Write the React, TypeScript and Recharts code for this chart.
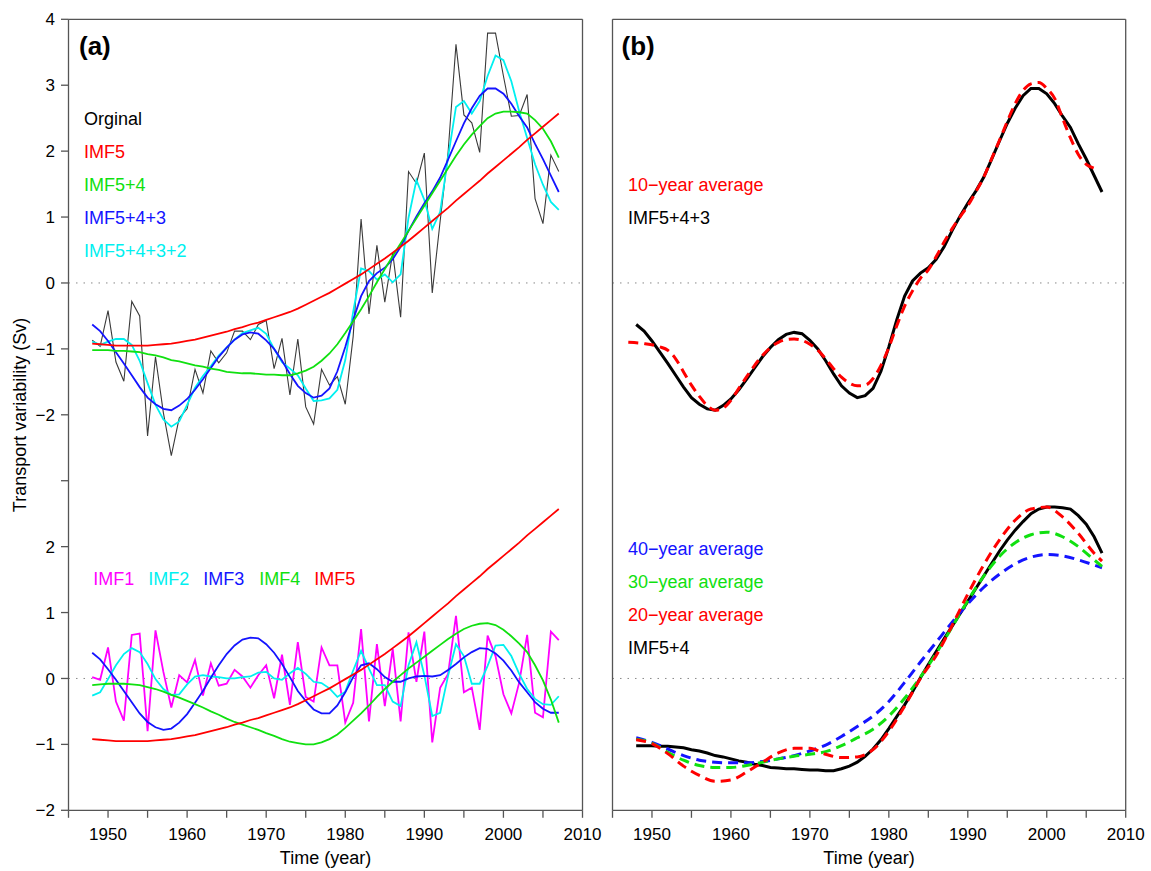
import React from "react";
import { LineChart, Line, XAxis, YAxis, ReferenceLine } from "recharts";

// annual series, 1948-2007
const years = Array.from({ length: 60 }, (_, i) => 1948 + i);

const imf1 = [
  0.02, -0.02, 0.47, -0.35, -0.64, 0.66, 0.68, -0.8, 0.73, 0.1,
  -0.44, 0.05, -0.06, 0.28, -0.26, 0.23, -0.11, -0.08, 0.13, 0.03,
  -0.14, 0.05, 0.2, -0.3, 0.36, -0.4, 0.55, -0.28, -0.35, 0.47,
  0.2, 0.2, -0.67, -0.37, 0.75, -0.65, 0.52, -0.42, 0.45, -0.65,
  0.7, -0.05, 0.71, -0.97, -0.14, 0.07, 0.95, -0.21, -0.14, -0.78,
  0.65, 0.34, -0.24, -0.53, -0.06, 0.66, -0.52, -0.59, 0.71, 0.58,
];
const imf2 = [
  -0.26, -0.21, -0.01, 0.2, 0.37, 0.46, 0.4, 0.22, -0.01, -0.16,
  -0.25, -0.24, -0.09, 0.03, 0.05, 0.03, 0.02, 0.0, 0.0, 0.02,
  0.03, 0.09, 0.1, 0.0, -0.02, 0.08, 0.16, 0.07, -0.05, -0.07,
  -0.15, -0.28, -0.2, 0.12, 0.42, 0.15, -0.1, -0.1, -0.35, -0.42,
  0.2, 0.55, 0.05, -0.57, -0.52, 0.04, 0.52, 0.34, -0.08, -0.08,
  0.19, 0.5, 0.51, 0.34, 0.07, -0.16, -0.31, -0.39, -0.4, -0.27,
];
const imf3 = [
  0.39, 0.29, 0.14, -0.02, -0.19, -0.36, -0.53, -0.66, -0.74, -0.78,
  -0.76, -0.67, -0.54, -0.37, -0.19, 0.01, 0.2, 0.37, 0.5, 0.59,
  0.62, 0.61, 0.52, 0.39, 0.22, 0.02, -0.19, -0.34, -0.47, -0.53,
  -0.53, -0.41, -0.21, 0.02, 0.2, 0.23, 0.14, 0.02, -0.05, -0.05,
  0.0, 0.03, 0.04, 0.03, 0.05, 0.13, 0.22, 0.32, 0.4, 0.46,
  0.45, 0.38, 0.27, 0.12, -0.06, -0.21, -0.36, -0.46, -0.52, -0.52,
];
const imf4 = [
  -0.1, -0.09, -0.08, -0.08, -0.08, -0.09, -0.1, -0.13, -0.16, -0.2,
  -0.25, -0.29, -0.34, -0.39, -0.44, -0.5, -0.55, -0.61, -0.66, -0.7,
  -0.74, -0.78, -0.83, -0.87, -0.92, -0.96, -0.98, -1.0, -1.0, -0.97,
  -0.92, -0.85, -0.75, -0.64, -0.53, -0.41, -0.28, -0.16, -0.05, 0.05,
  0.15, 0.24, 0.33, 0.42, 0.51, 0.6, 0.68, 0.75, 0.8, 0.83,
  0.84, 0.81, 0.74, 0.64, 0.53, 0.4, 0.2, -0.03, -0.32, -0.67,
];
const imf5 = [
  -0.92, -0.93, -0.94, -0.95, -0.95, -0.95, -0.95, -0.95, -0.94, -0.93,
  -0.92, -0.9, -0.88, -0.86, -0.83, -0.8, -0.77, -0.74, -0.7, -0.67,
  -0.63, -0.6, -0.56, -0.52, -0.48, -0.44, -0.39, -0.33, -0.27, -0.21,
  -0.15, -0.08, -0.01, 0.06, 0.13, 0.21, 0.29, 0.37, 0.46, 0.55,
  0.64, 0.74, 0.84, 0.94, 1.04, 1.14, 1.25, 1.35, 1.45, 1.55,
  1.66, 1.76, 1.86, 1.96, 2.06, 2.17, 2.27, 2.37, 2.47, 2.57,
];

// running averages, panel (b)
const avg10Years = [
  1947, 1949, 1951, 1952, 1953, 1954, 1955, 1956, 1957, 1958, 1959, 1960,
  1961, 1962, 1963, 1964, 1965, 1966, 1967, 1968, 1969, 1970, 1971, 1972,
  1973, 1974, 1975, 1976, 1977, 1978, 1979, 1980, 1981, 1982, 1983, 1984,
  1985, 1986, 1987, 1988, 1989, 1990, 1991, 1992, 1993, 1994, 1995, 1996,
  1997, 1998, 1999, 2000, 2001, 2002, 2003, 2004, 2005, 2006, 2006.5,
];
const avg10 = [
  -0.9, -0.92, -0.97, -1.02, -1.15, -1.35, -1.55, -1.72, -1.86, -1.93, -1.9, -1.78,
  -1.6, -1.42, -1.25, -1.1, -0.98, -0.9, -0.86, -0.85, -0.87, -0.93, -1.02, -1.15,
  -1.3, -1.43, -1.52, -1.56, -1.55, -1.45, -1.25, -0.98, -0.65, -0.35, -0.12, 0.07,
  0.2, 0.4, 0.62, 0.82, 1.0, 1.17, 1.38, 1.6, 1.88, 2.16, 2.45, 2.72,
  2.92, 3.02, 3.04, 2.95, 2.8, 2.5, 2.2, 1.95, 1.8, 1.74, 1.72,
];

const avgYears = [
  1948, 1950, 1952, 1954, 1956, 1958, 1960, 1962, 1964, 1966, 1968, 1970,
  1972, 1974, 1976, 1978, 1980, 1982, 1984, 1986, 1988, 1990, 1992, 1994,
  1996, 1998, 2000, 2002, 2004, 2006, 2007,
];
const avg40 = [
  -0.9, -0.97, -1.07, -1.17, -1.24, -1.27, -1.28, -1.28, -1.26, -1.22, -1.17, -1.1,
  -1.01, -0.88, -0.73, -0.57, -0.35, -0.06, 0.25, 0.55, 0.85, 1.13, 1.38, 1.58,
  1.74, 1.84, 1.88, 1.86, 1.8, 1.72, 1.68,
];
const avg30 = [
  -0.92, -0.98, -1.12, -1.24, -1.32, -1.35, -1.35, -1.32, -1.27, -1.22, -1.18, -1.15,
  -1.11, -1.02, -0.9, -0.77, -0.57, -0.3, 0.02, 0.38, 0.78, 1.18, 1.55, 1.85,
  2.06, 2.18, 2.22, 2.15, 2.0, 1.8, 1.7,
];
const avg20 = [
  -0.93, -0.99, -1.14, -1.33, -1.47, -1.56, -1.54, -1.42, -1.27, -1.13, -1.06, -1.06,
  -1.15, -1.2, -1.19, -1.08, -0.8, -0.42, 0.0, 0.35, 0.8, 1.28, 1.72, 2.1,
  2.4, 2.57, 2.6, 2.45, 2.2, 1.9, 1.78,
];

const xTicks = [1945, 1950, 1955, 1960, 1965, 1970, 1975, 1980, 1985, 1990, 1995, 2000, 2005, 2010];
const yTicks = [4, 3, 2, 1, 0, -1, -2, -3, -4, -5, -6, -7, -8];

// the lower half of each panel is drawn 6 units below the upper one
const SHIFT = 6;

const rows = years.map((year, i) => {
  const s54 = imf5[i] + imf4[i];
  const s543 = s54 + imf3[i];
  const s5432 = s543 + imf2[i];
  return {
    year,
    orig: s5432 + imf1[i],
    imf5: imf5[i],
    s54,
    s543,
    s5432,
    l1: imf1[i] - SHIFT,
    l2: imf2[i] - SHIFT,
    l3: imf3[i] - SHIFT,
    l4: imf4[i] - SHIFT,
    l5: imf5[i] - SHIFT,
    l54: s54 - SHIFT,
  };
});

const avg10Data = avg10Years.map((year, i) => ({ year, v: avg10[i] }));
const avg40Data = avgYears.map((year, i) => ({ year, v: avg40[i] - SHIFT }));
const avg30Data = avgYears.map((year, i) => ({ year, v: avg30[i] - SHIFT }));
const avg20Data = avgYears.map((year, i) => ({ year, v: avg20[i] - SHIFT }));

const AX = "#555";
const FONT = "'Liberation Sans', Arial, Helvetica, sans-serif";
const RED = "#ff0000";
const GREEN = "#10e010";
const BLUE = "#1414ff";
const CYAN = "#00f0f0";
const MAGENTA = "#ff00ff";

const num = (v: number) => (v < 0 ? "\u2212" + Math.abs(v) : String(v));
const yFmt = (v: number) => (v === -3 ? "" : num(v > -3 ? v : v + SHIFT));
const xFmt = (v: number) => (v % 10 === 0 ? String(v) : "");

const tickStyle = { fontSize: 17, fill: "#000", fontFamily: FONT };

// frame of one panel: ticks on the left, top and bottom; labels only where asked
function axes(leftLabels: boolean, leftW: number, rightW: number) {
  return [
    <XAxis
      key="xb"
      xAxisId="b"
      dataKey="year"
      type="number"
      domain={[1945, 2010]}
      ticks={xTicks}
      tickFormatter={xFmt}
      height={60.7}
      tickSize={7.5}
      tickMargin={10}
      stroke={AX}
      strokeWidth={1.3}
      tick={tickStyle}
      interval={0}
      allowDataOverflow
    />,
    <XAxis
      key="xt"
      xAxisId="t"
      orientation="top"
      dataKey="year"
      type="number"
      domain={[1945, 2010]}
      ticks={xTicks}
      height={19.3}
      tickSize={7.5}
      stroke={AX}
      strokeWidth={1.3}
      tick={false}
      interval={0}
      allowDataOverflow
    />,
    <YAxis
      key="yl"
      yAxisId="l"
      type="number"
      domain={[-8, 4]}
      ticks={yTicks}
      tickFormatter={yFmt}
      width={leftW}
      tickSize={7.5}
      tickMargin={6}
      stroke={AX}
      strokeWidth={1.3}
      tick={leftLabels ? tickStyle : false}
      interval={0}
      allowDataOverflow
    />,
    <YAxis
      key="yr"
      yAxisId="r"
      orientation="right"
      type="number"
      domain={[-8, 4]}
      ticks={yTicks}
      width={rightW}
      tickSize={7.5}
      tickLine={!leftLabels}
      stroke={AX}
      strokeWidth={1.3}
      tick={false}
      interval={0}
      allowDataOverflow
    />,
    <ReferenceLine key="z0" xAxisId="b" yAxisId="l" y={0} stroke="#888" strokeDasharray="1.5 6" />,
    <ReferenceLine key="z6" xAxisId="b" yAxisId="l" y={-SHIFT} stroke="#888" strokeDasharray="1.5 6" />,
  ];
}

const lineBase = {
  xAxisId: "b",
  yAxisId: "l",
  dot: false,
  activeDot: false,
  isAnimationActive: false,
  type: "linear" as const,
};

export default function App() {
  const txt = { fontFamily: FONT, fontSize: 18 };
  return (
    <div style={{ position: "absolute", left: 0, top: 0, width: 1151, height: 871, background: "#fff" }}>
      <div style={{ position: "absolute", left: 0, top: 0 }}>
        <LineChart width={610} height={871} data={rows} margin={{ top: 0, right: 0, bottom: 0, left: 0 }}>
          {axes(true, 68.5, 27.5)}
          <Line {...lineBase} dataKey="orig" stroke="#3a3a3a" strokeWidth={1.1} />
          <Line {...lineBase} dataKey="s5432" stroke={CYAN} strokeWidth={1.8} />
          <Line {...lineBase} dataKey="s543" stroke={BLUE} strokeWidth={1.8} />
          <Line {...lineBase} dataKey="s54" stroke={GREEN} strokeWidth={1.8} />
          <Line {...lineBase} dataKey="imf5" stroke={RED} strokeWidth={1.8} />
          <Line {...lineBase} dataKey="l1" stroke={MAGENTA} strokeWidth={1.8} />
          <Line {...lineBase} dataKey="l2" stroke={CYAN} strokeWidth={1.8} />
          <Line {...lineBase} dataKey="l3" stroke={BLUE} strokeWidth={1.8} />
          <Line {...lineBase} dataKey="l4" stroke={GREEN} strokeWidth={1.8} />
          <Line {...lineBase} dataKey="l5" stroke={RED} strokeWidth={1.8} />
        </LineChart>
      </div>
      <div style={{ position: "absolute", left: 590, top: 0 }}>
        <LineChart width={561} height={871} data={rows} margin={{ top: 0, right: 0, bottom: 0, left: 0 }}>
          {axes(false, 22.5, 25.3)}
          <Line {...lineBase} dataKey="s543" stroke="#000" strokeWidth={3} />
          <Line {...lineBase} data={avg10Data} dataKey="v" type="monotone" stroke={RED} strokeWidth={3} strokeDasharray="10 6" />
          <Line {...lineBase} dataKey="l54" stroke="#000" strokeWidth={3} />
          <Line {...lineBase} data={avg40Data} dataKey="v" type="monotone" stroke={BLUE} strokeWidth={3} strokeDasharray="10 6" />
          <Line {...lineBase} data={avg30Data} dataKey="v" type="monotone" stroke={GREEN} strokeWidth={3} strokeDasharray="10 6" />
          <Line {...lineBase} data={avg20Data} dataKey="v" type="monotone" stroke={RED} strokeWidth={3} strokeDasharray="10 6" />
        </LineChart>
      </div>
      <svg
        width={1151}
        height={871}
        style={{ position: "absolute", left: 0, top: 0, pointerEvents: "none" }}
      >
        <text x={79} y={55} fontFamily={FONT} fontSize={26} fontWeight="bold">(a)</text>
        <text x={621.5} y={55} fontFamily={FONT} fontSize={26} fontWeight="bold">(b)</text>

        <text x={84} y={125} {...txt} fill="#000">Orginal</text>
        <text x={84} y={158} {...txt} fill={RED}>IMF5</text>
        <text x={84} y={191} {...txt} fill={GREEN}>IMF5+4</text>
        <text x={84} y={224} {...txt} fill={BLUE}>IMF5+4+3</text>
        <text x={84} y={257} {...txt} fill={CYAN}>IMF5+4+3+2</text>

        <text x={93.3} y={585} {...txt} fill={MAGENTA}>IMF1</text>
        <text x={148.3} y={585} {...txt} fill={CYAN}>IMF2</text>
        <text x={203.3} y={585} {...txt} fill={BLUE}>IMF3</text>
        <text x={259.3} y={585} {...txt} fill={GREEN}>IMF4</text>
        <text x={314.3} y={585} {...txt} fill={RED}>IMF5</text>

        <text x={628} y={191} {...txt} fill={RED}>10{"\u2212"}year average</text>
        <text x={628} y={224} {...txt} fill="#000">IMF5+4+3</text>
        <text x={628} y={555} {...txt} fill={BLUE}>40{"\u2212"}year average</text>
        <text x={628} y={588} {...txt} fill={GREEN}>30{"\u2212"}year average</text>
        <text x={628} y={621} {...txt} fill={RED}>20{"\u2212"}year average</text>
        <text x={628} y={654} {...txt} fill="#000">IMF5+4</text>

        <text x={325.5} y={864} {...txt} textAnchor="middle">Time (year)</text>
        <text x={869} y={864} {...txt} textAnchor="middle">Time (year)</text>
        <text x={26} y={415} {...txt} textAnchor="middle" transform="rotate(-90 26 415)">
          Transport variability (Sv)
        </text>
      </svg>
    </div>
  );
}
